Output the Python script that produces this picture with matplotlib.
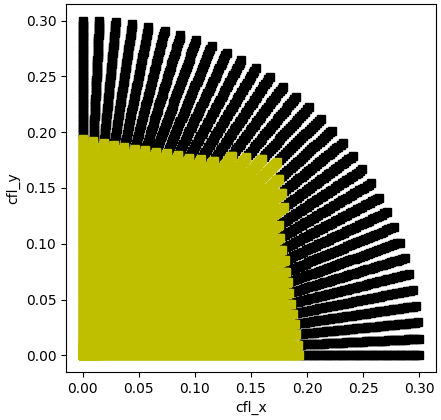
import numpy as np
import matplotlib
matplotlib.use('Agg')
import matplotlib.pyplot as plt

## spoke directions of the cfl vector, in degrees from the cfl_x axis
spoke_deg = [0.00, 2.81, 5.63, 8.44, 11.25, 14.06, 16.88, 19.69, 22.50,
             25.31, 28.13, 30.94, 33.75, 36.56, 39.38, 42.19, 45.00,
             47.81, 50.63, 53.44, 56.25, 59.06, 61.88, 64.69, 67.50,
             70.31, 73.13, 75.94, 78.75, 81.56, 84.38, 87.19, 90.00]

## largest stable |cfl| along each spoke
stable_mag = [0.1935, 0.1927, 0.1919, 0.1916, 0.1915, 0.1918, 0.1928,
              0.1946, 0.1962, 0.1992, 0.2016, 0.2058, 0.2103, 0.2230,
              0.2300, 0.2370, 0.2450, 0.2390, 0.2300, 0.2230, 0.2103,
              0.2058, 0.2016, 0.1997, 0.1964, 0.1949, 0.1928, 0.1914,
              0.1905, 0.1913, 0.1916, 0.1924, 0.1940]

cfl_max = 0.3   # largest |cfl| tested
step_bad = 0.0025   # sampling of |cfl| for unstable points
step_ok = 0.001     # sampling of |cfl| for stable points

mags_bad = np.arange(0., cfl_max + step_bad/2., step_bad)
mags_ok = np.arange(0., cfl_max + step_ok/2., step_ok)

xs_ok, ys_ok = [], []
xs_bad, ys_bad = [], []
for ang, rb in zip(spoke_deg, stable_mag):
    th = np.deg2rad(ang)
    r_ok = mags_ok[mags_ok <= rb]
    r_bad = mags_bad[mags_bad > rb]
    xs_ok.append(r_ok*np.cos(th))
    ys_ok.append(r_ok*np.sin(th))
    xs_bad.append(r_bad*np.cos(th))
    ys_bad.append(r_bad*np.sin(th))
xs_ok, ys_ok = np.concatenate(xs_ok), np.concatenate(ys_ok)
xs_bad, ys_bad = np.concatenate(xs_bad), np.concatenate(ys_bad)

fig = plt.figure(figsize=(4.41, 4.2), dpi=100)
ax = fig.add_axes([66/441., 48/420., 370/441., 368/420.])
ax.plot(xs_bad, ys_bad, 'ks')
ax.plot(xs_ok, ys_ok, 'ys')
ax.set_xlabel('cfl_x')
ax.set_ylabel('cfl_y')
fig.savefig('out.png', dpi=100)
